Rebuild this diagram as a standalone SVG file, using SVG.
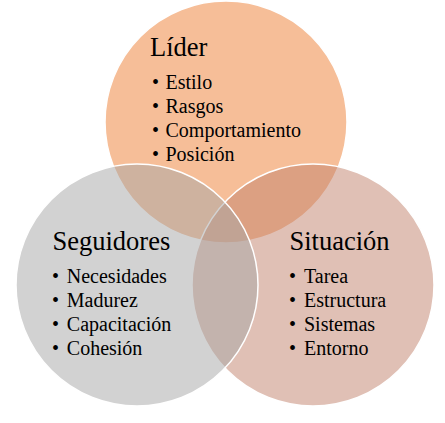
<svg xmlns="http://www.w3.org/2000/svg" width="445" height="423" viewBox="0 0 445 423">
<style>
.c{stroke:#ffffff;stroke-width:1.5;fill-opacity:0.5}
.t{font-family:"Liberation Serif","Times New Roman",serif;fill:#000000}
.h{font-size:26.5px}
.i{font-size:20px}
.b{font-size:20px;text-anchor:middle}
</style>
<rect width="445" height="423" fill="#ffffff"/>
<g id="lider">
<circle class="c" cx="226" cy="122" r="121" fill="#ED7D31"/>
</g>
<g id="situacion">
<circle class="c" cx="313" cy="285" r="121" fill="#C1816B"/>
</g>
<g id="seguidores">
<circle class="c" cx="137" cy="285" r="121" fill="#A5A5A5"/>
</g>
<g id="lider-text" class="t">
<text class="h" x="150" y="56">Líder</text>
<text class="b" x="155.5" y="89">•</text><text class="i" x="165.5" y="89">Estilo</text>
<text class="b" x="155.5" y="113">•</text><text class="i" x="165.5" y="113">Rasgos</text>
<text class="b" x="155.5" y="137">•</text><text class="i" x="165.5" y="137">Comportamiento</text>
<text class="b" x="155.5" y="161">•</text><text class="i" x="165.5" y="161">Posición</text>
</g>
<g id="seguidores-text" class="t">
<text class="h" x="52.5" y="250">Seguidores</text>
<text class="b" x="55.5" y="283">•</text><text class="i" x="66.8" y="283">Necesidades</text>
<text class="b" x="55.5" y="307">•</text><text class="i" x="66.8" y="307">Madurez</text>
<text class="b" x="55.5" y="331">•</text><text class="i" x="66.8" y="331">Capacitación</text>
<text class="b" x="55.5" y="355">•</text><text class="i" x="66.8" y="355">Cohesión</text>
</g>
<g id="situacion-text" class="t">
<text class="h" x="289.5" y="250">Situación</text>
<text class="b" x="292.5" y="283">•</text><text class="i" x="304" y="283">Tarea</text>
<text class="b" x="292.5" y="307">•</text><text class="i" x="304" y="307">Estructura</text>
<text class="b" x="292.5" y="331">•</text><text class="i" x="304" y="331">Sistemas</text>
<text class="b" x="292.5" y="355">•</text><text class="i" x="304" y="355">Entorno</text>
</g>
<g id="connectors"></g>
</svg>
